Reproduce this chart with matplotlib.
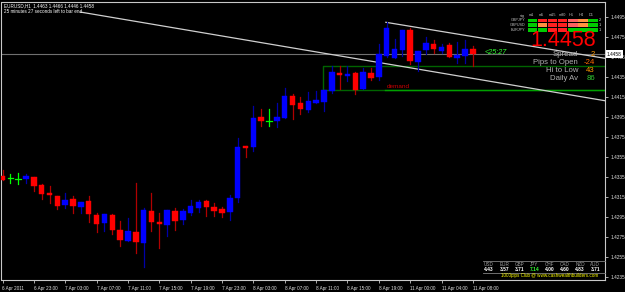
import matplotlib
matplotlib.use("Agg")
import matplotlib.pyplot as plt
from matplotlib.patches import Rectangle

# ---------------- data ----------------
symbol_line = "EURUSD,H1  1.4463 1.4466 1.4446 1.4458"
timer_line = "25 minutes 27 seconds left to bar end"

opens = [1.4336, 1.4334, 1.4333, 1.4333, 1.4335, 1.4327, 1.4319, 1.4316, 1.4307, 1.4313,
         1.4305, 1.4311, 1.4297, 1.4289, 1.4297, 1.4282, 1.4271, 1.4280, 1.4269, 1.4301,
         1.4290, 1.4287, 1.4301, 1.4292, 1.4299, 1.4304, 1.4311, 1.4305, 1.4303, 1.4300,
         1.4314, 1.4366, 1.4365, 1.4395, 1.4391, 1.4391, 1.4394, 1.4416, 1.4409, 1.4402,
         1.4409, 1.4410, 1.4421, 1.4439, 1.4436, 1.4439, 1.4423, 1.4439, 1.4435, 1.4456,
         1.4454, 1.4462, 1.4482, 1.4450, 1.4462, 1.4468, 1.4461, 1.4467, 1.4454, 1.4456,
         1.4463]
highs = [1.4342, 1.4338, 1.4339, 1.4338, 1.4335, 1.4328, 1.4326, 1.4316, 1.4319, 1.4316,
         1.4310, 1.4316, 1.4299, 1.4298, 1.4298, 1.4291, 1.4294, 1.4329, 1.4304, 1.4319,
         1.4299, 1.4302, 1.4304, 1.4303, 1.4312, 1.4312, 1.4312, 1.4309, 1.4305, 1.4317,
         1.4374, 1.4366, 1.4406, 1.4403, 1.4403, 1.4409, 1.4424, 1.4418, 1.4415, 1.4420,
         1.4421, 1.4422, 1.4446, 1.4446, 1.4446, 1.4440, 1.4444, 1.4444, 1.4468, 1.4490,
         1.4473, 1.4482, 1.4484, 1.4461, 1.4475, 1.4472, 1.4468, 1.4469, 1.4470, 1.4472,
         1.4466]
lows = [1.4332, 1.4329, 1.4328, 1.4329, 1.4321, 1.4313, 1.4309, 1.4303, 1.4304, 1.4299,
        1.4299, 1.4290, 1.4280, 1.4281, 1.4278, 1.4266, 1.4271, 1.4259, 1.4245, 1.4281,
        1.4264, 1.4276, 1.4282, 1.4288, 1.4297, 1.4300, 1.4296, 1.4296, 1.4295, 1.4292,
        1.4310, 1.4355, 1.4361, 1.4386, 1.4386, 1.4385, 1.4394, 1.4393, 1.4398, 1.4400,
        1.4409, 1.4401, 1.4419, 1.4423, 1.4431, 1.4418, 1.4423, 1.4432, 1.4432, 1.4455,
        1.4454, 1.4456, 1.4448, 1.4441, 1.4458, 1.4459, 1.4459, 1.4455, 1.4449, 1.4449,
        1.4446]
closes = [1.4332, 1.4334, 1.4333, 1.4336, 1.4326, 1.4318, 1.4317, 1.4306, 1.4312, 1.4306,
          1.4310, 1.4298, 1.4288, 1.4298, 1.4282, 1.4272, 1.4281, 1.4270, 1.4302, 1.4290,
          1.4288, 1.4302, 1.4291, 1.4301, 1.4306, 1.4310, 1.4305, 1.4301, 1.4299, 1.4314,
          1.4365, 1.4364, 1.4394, 1.4391, 1.4391, 1.4395, 1.4416, 1.4407, 1.4403, 1.4411,
          1.4412, 1.4422, 1.4440, 1.4437, 1.4438, 1.4422, 1.4440, 1.4434, 1.4458, 1.4484,
          1.4463, 1.4482, 1.4451, 1.4461, 1.4469, 1.4463, 1.4465, 1.4455, 1.4457, 1.4463,
          1.4458]

date_tick_bars = [0, 4, 8, 12, 16, 20, 24, 28, 32, 36, 40, 44, 48, 52, 56, 60]
date_tick_labels = ["6 Apr 2011", "6 Apr 23:00", "7 Apr 03:00", "7 Apr 07:00", "7 Apr 11:00",
                    "7 Apr 15:00", "7 Apr 19:00", "7 Apr 23:00", "8 Apr 03:00", "8 Apr 07:00",
                    "8 Apr 11:00", "8 Apr 15:00", "8 Apr 19:00", "11 Apr 00:00", "11 Apr 04:00",
                    "11 Apr 08:00"]
price_ticks = [1.4495, 1.4475, 1.4455, 1.4435, 1.4415, 1.4395, 1.4375, 1.4355, 1.4335,
               1.4315, 1.4295, 1.4275, 1.4255, 1.4235]
bid_price = 1.4458

# trend channel anchors (bar index, price)
lower_line = [(9.9, 1.4500), (60.0, 1.44336)]
upper_line = [(48.9, 1.44897), (60.0, 1.44754)]
# demand zone
demand_start = 40.85
demand_top = 1.4446
demand_bottom = 1.4422

# info panel
spread_labels = ["Spread", "Pips to Open", "Hi to Low", "Daily Av"]
spread_values = ["2", "-24", "43", "86"]
spread_colors = ["#ff9900", "#ff6a00", "#ff9900", "#33cc33"]
strength_ccy = ["USD", "EUR", "GBP", "JPY", "CHF", "CAD", "NZD", "AUD"]
strength_val = ["4.43", "3.57", "3.71", "7.14", "4.00", "4.60", "4.83", "3.71"]
tf_headers = ["sig", "m1", "m5", "m15", "m30", "H1", "H4", "D1"]
tf_pairs = ["GBPJPY", "GBPUSD", "EURJPY"]
tf_colors = [["#00cc00", "#ff2020", "#ff2020", "#ff2020", "#ff6060", "#ff9040", "#00cc00"],
             ["#00cc00", "#ff9040", "#ff2020", "#ff2020", "#ff6060", "#ff9040", "#00cc00"],
             ["#00cc00", "#00cc00", "#ff2020", "#ff2020", "#00cc00", "#00cc00", "#00cc00"]]
tf_count = ["2", "1", "1"]

# ---------------- figure ----------------
W, H, DPI = 625, 292, 100
FONT = "Liberation Sans"
fig = plt.figure(figsize=(W / DPI, H / DPI), dpi=DPI, facecolor="black")

x0, x1, y0, y1 = 1.5, 605, 2, 280
ax = fig.add_axes([x0 / W, 1 - y1 / H, (x1 - x0) / W, (y1 - y0) / H], facecolor="black")
bar_px = 7.84
first_px = 2.5
ax.set_xlim((x0 - first_px) / bar_px, (x1 - first_px) / bar_px)
ax.set_ylim(1.4512 - y1 / 10000, 1.4512 - y0 / 10000)
for s in ax.spines.values():
    s.set_color("#c8c8c8")
    s.set_linewidth(0.8)

def fy(y):
    return 1 - y / H

def fx(x):
    return x / W

# bid line
ax.axhline(bid_price, color="#707070", lw=0.8, zorder=1)

# demand zone
xr = ax.get_xlim()[1]
ax.plot([xr, demand_start, demand_start, xr], [demand_top, demand_top, demand_bottom, demand_bottom],
        color="#006400", lw=1.0, zorder=1)
ax.plot([demand_start + 8, xr], [demand_bottom, demand_bottom], color="#00a000", lw=1.0, zorder=1)
ax.text(49, demand_bottom + 0.0004, "demand", color="#cc0000", fontsize=4.6, family=FONT,
        va="center", ha="left")

# trend lines extended to the right edge
for (a, b) in (lower_line, upper_line):
    (ia, pa), (ib, pb) = a, b
    slope = (pb - pa) / (ib - ia)
    ax.plot([ia, xr], [pa, pa + slope * (xr - ia)], color="#d0d0d0", lw=0.9, zorder=2)

# candles
bw = 0.70
for i, (o, h, l, c) in enumerate(zip(opens, highs, lows, closes)):
    if abs(c - o) < 1e-9:
        ax.plot([i, i], [l, h], color="#00ff00", lw=0.9, zorder=3)
        ax.plot([i - bw / 2, i + bw / 2], [o, o], color="#00ff00", lw=0.9, zorder=3)
        continue
    up = c > o
    body = "#0000ff" if up else "#ff0000"
    wick = "#0000a8" if up else "#b00000"
    ax.plot([i, i], [l, h], color=wick, lw=0.9, zorder=3)
    ax.add_patch(Rectangle((i - bw / 2, min(o, c)), bw, abs(c - o), facecolor=body,
                           edgecolor=body, lw=0.3, zorder=4))

# axes ticks
ax.set_xticks(date_tick_bars)
ax.set_xticklabels(date_tick_labels)
ax.tick_params(axis="x", colors="#c8c8c8", length=2.5, width=0.6, pad=1.5, labelsize=3.3)
for t in ax.get_xticklabels():
    t.set_ha("left")
    t.set_family(FONT)
    t.set_color("#e0e0e0")
ax.yaxis.tick_right()
ax.set_yticks(price_ticks)
ax.set_yticklabels([f"{p:.4f}" for p in price_ticks])
ax.tick_params(axis="y", colors="#c8c8c8", length=2.5, width=0.6, pad=1.5, labelsize=3.4)
for t in ax.get_yticklabels():
    t.set_family(FONT)
    t.set_color("#e0e0e0")

# current price box
fig.text(fx(607), fy(54), f"{bid_price:.4f}", color="black", fontsize=3.4, family=FONT,
         va="center", ha="left",
         bbox=dict(boxstyle="square,pad=0.25", fc="white", ec="white", lw=0))

# header text
fig.text(fx(4), fy(5.5), symbol_line, color="white", fontsize=3.3, family=FONT, va="center")
fig.text(fx(4), fy(11.5), timer_line, color="white", fontsize=3.3, family=FONT, va="center")

# countdown
fig.text(fx(485), fy(53), "<25:27", color="#33ff33", fontsize=5.2, family=FONT, va="center",
         style="italic")

# timeframe table
col_x = [527.5 + 10.1 * k for k in range(7)]
fig.text(fx(520), fy(15.5), tf_headers[0], color="#c0c0c0", fontsize=2.8, family=FONT, va="center")
for k, hdr in enumerate(tf_headers[1:]):
    fig.text(fx(col_x[k] + 1), fy(15.5), hdr, color="#c0c0c0", fontsize=2.8, family=FONT,
             va="center")
for r, (pair, cols, cnt) in enumerate(zip(tf_pairs, tf_colors, tf_count)):
    yc = 20.3 + 4.7 * r
    fig.text(fx(525), fy(yc), pair, color="#c0c0c0", fontsize=2.7, family=FONT, va="center",
             ha="right")
    for k, col in enumerate(cols):
        fig.patches.append(Rectangle((fx(col_x[k]), fy(yc + 1.8)), 9.6 / W, 3.6 / H,
                                     transform=fig.transFigure, facecolor=col, edgecolor="none"))
    fig.text(fx(598.5), fy(yc), cnt, color="#e0e0e0", fontsize=2.8, family=FONT, va="center")

# big price
fig.text(fx(596), fy(40), f"{bid_price:.4f}", color="#ff0000", fontsize=15.5, family=FONT,
         va="center", ha="right")

# spread block
for r, (lab, val, col) in enumerate(zip(spread_labels, spread_values, spread_colors)):
    yc = 55 + 7.8 * r
    fig.text(fx(578), fy(yc), lab, color="#b0b0b0", fontsize=5.6, family=FONT, va="center",
             ha="right")
    fig.text(fx(595), fy(yc), val, color=col, fontsize=5.6, family=FONT, va="center",
             ha="right")

# currency strength panel
fig.lines.append(plt.Line2D([fx(483), fx(605)], [fy(261), fy(261)], color="#808080", lw=0.6,
                            transform=fig.transFigure))
fig.lines.append(plt.Line2D([fx(483), fx(605)], [fy(272.5), fy(272.5)], color="#808080", lw=0.6,
                            transform=fig.transFigure))
for k, (ccy, val) in enumerate(zip(strength_ccy, strength_val)):
    xc = 489 + 15.2 * k
    fig.text(fx(xc), fy(264.5), ccy, color="#a0a0a0", fontsize=3.3, family=FONT, va="center",
             ha="center")
    fig.text(fx(xc), fy(269.5), val, color="#33ff33" if ccy == "JPY" else "white", fontsize=3.5,
             family=FONT, va="center", ha="center", weight="bold")
fig.text(fx(550), fy(276), "1000pips Club @ www.cashwealthbuilders.com", color="#ffff00",
         fontsize=3.3, family=FONT, va="center", ha="center")

fig.savefig("out.png", dpi=DPI, facecolor="black")
